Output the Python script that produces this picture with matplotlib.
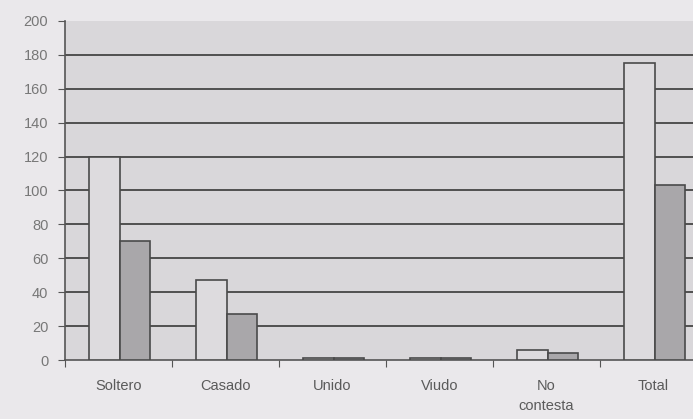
import matplotlib.pyplot as plt
import numpy as np

categorias = ['Soltero', 'Casado', 'Unido', 'Viudo', 'No\ncontesta', 'Total']
serie_1 = [120, 47, 1, 1, 6, 175]
serie_2 = [70, 27, 1, 1, 4, 103]
y_ticks = list(range(0, 201, 20))

plt.rcParams['font.family'] = ['Liberation Sans', 'DejaVu Sans']

fig = plt.figure(figsize=(6.93, 4.19), dpi=100)
fig.patch.set_facecolor('#eae8eb')
ax = fig.add_axes([65 / 693, 59 / 419, 642 / 693, 339 / 419])
ax.set_facecolor('#d9d7da')

x = np.arange(len(categorias))
w = 0.285
ax.bar(x - w / 2 + 0.01, serie_1, w, color='#dddbde', edgecolor='#4a4a4a', linewidth=1.2, zorder=3)
ax.bar(x + w / 2 + 0.01, serie_2, w, color='#a9a7aa', edgecolor='#4a4a4a', linewidth=1.2, zorder=3)

ax.set_ylim(0, 200)
ax.set_xlim(-0.5, len(categorias) - 0.5)
ax.set_yticks(y_ticks)
# gridlines only between 0 and 200 (the top edge has no line)
for v in y_ticks[1:-1]:
    ax.axhline(v, color='#505050', linewidth=1.4, zorder=1)

ax.set_xticks(np.arange(-0.5, len(categorias), 1.0), minor=False)
ax.set_xticklabels([])
ax.set_xticks(x, minor=True)
ax.set_xticklabels(categorias, minor=True, linespacing=1.5)
ax.tick_params(axis='x', which='minor', length=0, pad=14, labelsize=10.5, labelcolor='#5a5a5a')
ax.tick_params(axis='x', which='major', length=5, color='#555555', direction='out')
ax.tick_params(axis='y', length=5, color='#555555', labelsize=10.5, labelcolor='#777777', pad=7)

for s in ['top', 'right']:
    ax.spines[s].set_visible(False)
ax.spines['left'].set_color('#555555')
ax.spines['bottom'].set_color('#555555')
ax.spines['left'].set_linewidth(1.2)
ax.spines['bottom'].set_linewidth(1.2)

fig.savefig('out.png', dpi=100, facecolor=fig.get_facecolor())
